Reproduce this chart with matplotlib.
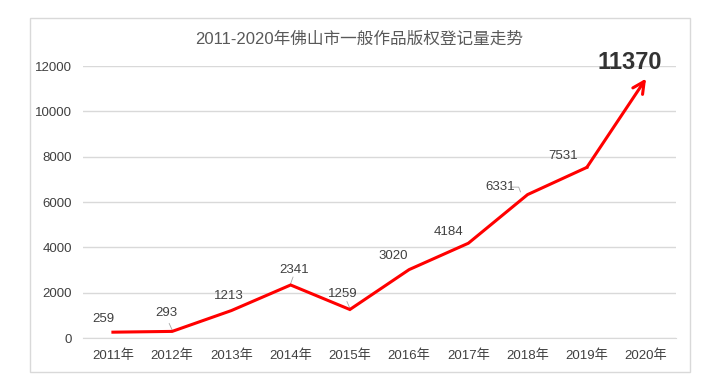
import matplotlib.pyplot as plt
from matplotlib.patches import Rectangle

# --- data ---
years = ['2011年', '2012年', '2013年', '2014年', '2015年',
         '2016年', '2017年', '2018年', '2019年', '2020年']
counts = [259, 293, 1213, 2341, 1259, 3020, 4184, 6331, 7531, 11370]
yticks = [0, 2000, 4000, 6000, 8000, 10000, 12000]

# label offsets (pixels, label centre relative to the point)
offsets = [(-10, 13), (-6, 18), (-3, 15), (3, 15), (-7, 16),
           (-16, 14), (-20, 11), (-27, 8), (-24, 11), (-16, 18)]

plt.rcParams['font.family'] = ['Liberation Sans', 'Noto Sans CJK SC', 'DejaVu Sans']
txt = '#404040'

fig = plt.figure(figsize=(7.12, 3.89), dpi=100)
fig.patches.append(Rectangle((30 / 712, 1 - 372 / 389), 660 / 712, 354 / 389,
                             transform=fig.transFigure, fill=False,
                             edgecolor='#d9d9d9', linewidth=1))
ax = fig.add_axes([0.117, 0.131, 0.832, 0.699])

x = list(range(len(years)))
ax.plot(x[:-1], counts[:-1], color='#ff0000', linewidth=2.2, solid_joinstyle='miter', zorder=3)
# last segment ends in an open arrow head
ax.annotate('', xy=(x[-1], counts[-1] + 80), xytext=(x[-2], counts[-2]),
            arrowprops=dict(arrowstyle='->,head_length=0.7,head_width=0.35',
                            color='#ff0000', lw=2.2, mutation_scale=12,
                            shrinkA=0, shrinkB=0),
            annotation_clip=False, zorder=3)

for i, (v, off) in enumerate(zip(counts, offsets)):
    if i == len(counts) - 1:
        ax.annotate(str(v), (i, v), xytext=off, textcoords='offset pixels',
                    ha='center', va='center', fontsize=17, fontweight='bold',
                    color='#333333', annotation_clip=False)
    else:
        ax.annotate(str(v), (i, v), xytext=off, textcoords='offset pixels',
                    ha='center', va='center', fontsize=9.5, color=txt)

# small leader lines like the original labels
for i, dx in ((1, -0.05), (3, 0.04), (4, -0.05)):
    ax.plot([i + dx, i], [counts[i] + 350, counts[i] + 60], color='#a6a6a6', lw=0.6, zorder=2)
ax.plot([6.72, 6.85, 6.88], [counts[7] + 330, counts[7] + 330, counts[7] + 120],
        color='#a6a6a6', lw=0.6, zorder=2)

ax.set_xlim(-0.5, 9.5)
ax.set_ylim(0, 12000)
ax.set_xticks(x)
ax.set_xticklabels(years, fontsize=9.5, color=txt)
ax.set_yticks(yticks)
ax.set_yticklabels([str(t) for t in yticks], fontsize=9.5, color=txt)
ax.tick_params(length=0, pad=8)
ax.grid(axis='y', color='#d9d9d9', linewidth=1)
ax.set_axisbelow(True)
for s in ['top', 'right', 'left']:
    ax.spines[s].set_visible(False)
ax.spines['bottom'].set_color('#d9d9d9')

fig.text(0.505, 0.9, '2011-2020年佛山市一般作品版权登记量走势', ha='center', va='center',
         fontsize=12, color='#595959')

fig.savefig('out.png', dpi=100)
